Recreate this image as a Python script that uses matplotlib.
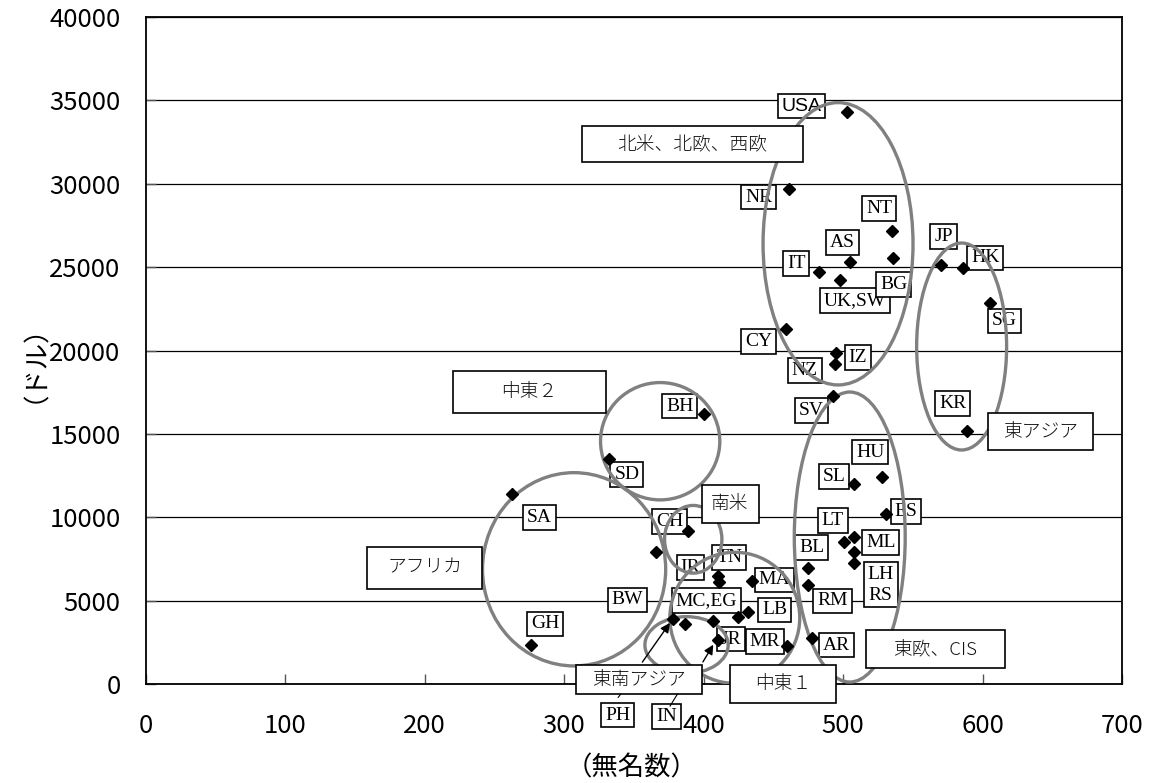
import matplotlib
matplotlib.use('Agg')
import matplotlib.pyplot as plt
from matplotlib.patches import Ellipse, Rectangle

plt.rcParams['font.family'] = ['Noto Sans CJK JP', 'DejaVu Sans']

# points (x: 無名数, y: ドル)
pt_x = [503, 461, 535, 536, 505, 483, 498, 459, 495, 494, 493,
        570, 586, 605, 589, 400, 332,
        508, 528, 531, 389, 501, 508, 508, 508, 475, 475,
        366, 410, 411, 435, 425, 432, 378, 387, 407, 410, 460, 478,
        263, 276]
pt_y = [34300, 29680, 27170, 25550, 25310, 24710, 24230, 21290, 19850, 19190, 17270,
        25130, 24950, 22840, 15170, 16190, 13490,
        11990, 12410, 10190, 9180, 8520, 8820, 7920, 7260, 6960, 5940,
        7920, 6480, 6120, 6180, 4020, 4320, 3900, 3600, 3780, 2640, 2280, 2760,
        11390, 2340]

# country code labels: text, x, y
codes = ['NR', 'NT', 'AS', 'IT', 'UK,SW', 'BG', 'CY', 'NZ', 'IZ', 'SV',
         'JP', 'HK', 'SG', 'KR', 'BH', 'SD', 'HU', 'SL', 'ES', 'LT', 'BL', 'ML',
         'LH\nRS', 'RM', 'TN', 'IR', 'MA', 'LB', 'MC,EG', 'JR', 'MR', 'AR',
         'BW', 'CH', 'SA', 'GH', 'PH', 'IN']
code_x = [439.5, 526, 499.5, 466.5, 508.5, 536.5, 439.5, 472.5, 510.5, 477.5,
          572, 602, 615.5, 578.5, 383, 345, 519.5, 493.5, 545, 492.5, 477.5, 527,
          527, 492.5, 418.5, 390.5, 451, 451, 402, 419.5, 444, 495,
          345.5, 375.5, 282.5, 286.5, 338.5, 373.5]
code_y = [29200, 28520, 26480, 25220, 23000, 23960, 20540, 18800, 19580, 16400,
          26840, 25550, 21770, 16820, 16670, 12560, 13910, 12440, 10340, 9800, 8190, 8510,
          5940, 4980, 7590, 6990, 6240, 4440, 5010, 2700, 2550, 2340,
          5040, 9750, 9990, 3600, -1860, -1950]

# region groups: name, box center, box size, ellipse center, ellipse size
groups = ['北米、北欧、西欧', '東アジア', '中東２', '南米', 'アフリカ', '東欧、CIS', '中東１', '東南アジア']
box_cx = [392, 641.3, 275.1, 419, 200.1, 566.3, 457, 353.7]
box_cy = [32380, 15140, 17530, 10780, 6970, 2100, 10, 270]
box_w = [158.3, 75.2, 109.6, 40.9, 82.4, 99.1, 75.4, 90.8]
box_h = [2160, 2220, 2520, 2280, 2520, 2300, 2260, 1740]
ell_cx = [496.4, 585, 368.9, 392.6, 307.2, 504.8, 422.4, 387.8]
ell_cy = [26400, 20240, 14560, 8680, 6880, 8815, 3970, 2340]
ell_w = [107.5, 64.5, 85.5, 41.1, 131.3, 79.5, 93.1, 59.7]
ell_h = [16930, 12410, 7035, 4060, 11590, 17390, 7860, 3400]

fig = plt.figure(figsize=(11.57, 7.83), dpi=100)
ax = fig.add_axes([0.1258, 0.1264, 0.8440, 0.8519])
ax.set_xlim(0, 700)
ax.set_ylim(0, 40000)
ax.set_xticks(range(0, 701, 100))
ax.set_yticks(range(0, 40001, 5000))
ax.grid(True, axis='y', color='black', linewidth=0.9)
ax.set_axisbelow(True)
ax.tick_params(direction='in', length=7, labelsize=18.5, width=1, color='#555555')
ax.tick_params(axis='y', pad=18)
ax.tick_params(axis='x', pad=21)
for s in ax.spines.values():
    s.set_linewidth(1.3)

ax.set_xlabel('（無名数）', fontsize=19)
ax.set_ylabel('（ドル）', fontsize=19)
ax.xaxis.set_label_coords(0.498, -0.126)
ax.yaxis.set_label_coords(-0.127, 0.5)
ax.xaxis.label.set_va('center')
ax.yaxis.label.set_va('center')

ax.plot(pt_x, pt_y, 'D', color='black', markersize=6.5, zorder=5, clip_on=False)

# USA label in sans serif
ax.text(470.5, 34660, 'USA', family='Liberation Sans', fontsize=14, ha='center', va='center',
        zorder=3, bbox=dict(boxstyle='square,pad=0.18', fc='white', ec='black', lw=1.2))
for t, x, y in zip(codes, code_x, code_y):
    ax.text(x, y, t, family='Liberation Serif', fontsize=14, ha='center', va='center',
            zorder=3, clip_on=False, linespacing=1.25,
            bbox=dict(boxstyle='square,pad=0.2', fc='white', ec='black', lw=1.2))

for i in range(len(groups)):
    ax.add_patch(Ellipse((ell_cx[i], ell_cy[i]), ell_w[i], ell_h[i], fill=False,
                         ec='#808080', lw=2.4, zorder=4))
    ax.add_patch(Rectangle((box_cx[i] - box_w[i] / 2, box_cy[i] - box_h[i] / 2),
                           box_w[i], box_h[i], fc='white', ec='black', lw=1.2,
                           zorder=6, clip_on=False))
    ax.text(box_cx[i], box_cy[i], groups[i], fontsize=13.5, fontweight='light',
            color='#111111', ha='center', va='center', zorder=7, clip_on=False)

# arrows from 東南アジア
ax.annotate('', xy=(377, 3800), xytext=(355, 1180),
            arrowprops=dict(arrowstyle='-|>', color='black', lw=1, mutation_scale=14),
            zorder=6, annotation_clip=False)
ax.annotate('', xy=(408, 2500), xytext=(398.5, 1180),
            arrowprops=dict(arrowstyle='-|>', color='black', lw=1, mutation_scale=14),
            zorder=6, annotation_clip=False)
ax.plot([376, 381.3], [-1320, -600], color='black', lw=0.8, clip_on=False, zorder=6)
ax.plot([338.8, 340.5], [-800, -620], color='black', lw=0.8, clip_on=False, zorder=6)

fig.savefig('out.png', dpi=100)
